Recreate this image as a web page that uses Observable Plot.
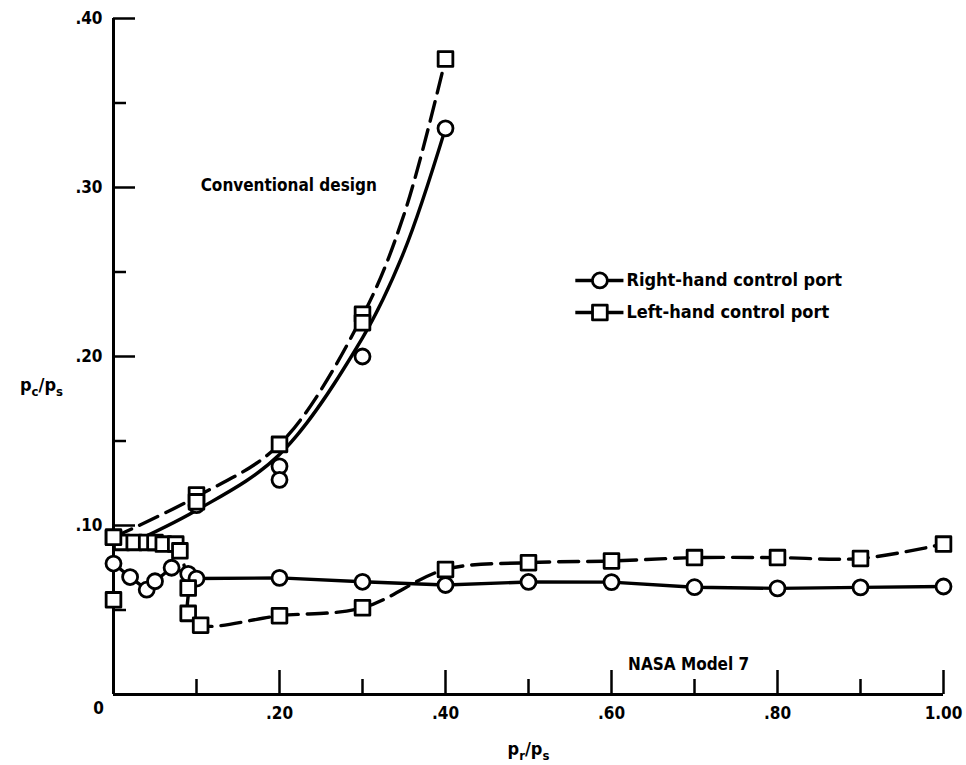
<!DOCTYPE html>
<html><head><meta charset="utf-8">
<script src="https://cdn.jsdelivr.net/npm/d3@7"></script>
<script src="https://cdn.jsdelivr.net/npm/@observablehq/plot@0.6"></script>
<style>
body{margin:0;background:#fff;}
#chart svg{font-family:"Liberation Sans Narrow","DejaVu Sans Condensed","Arial Narrow",sans-serif;}
</style></head><body><div id="chart"></div>
<script>
// ---- Conventional design (measured points) ----
const convRightX = [0.10, 0.20, 0.20, 0.30, 0.40];
const convRightY = [0.112, 0.135, 0.127, 0.200, 0.335];
const convLeftX  = [0.00, 0.10, 0.10, 0.20, 0.30, 0.30, 0.40];
const convLeftY  = [0.093, 0.118, 0.114, 0.148, 0.225, 0.220, 0.376];
// faired curves drawn through the conventional-design data
const convRightCurveX = [0.01, 0.10, 0.20, 0.30, 0.35, 0.40];
const convRightCurveY = [0.087, 0.109, 0.142, 0.211, 0.262, 0.335];
const convLeftCurveX  = [0.00, 0.10, 0.20, 0.30, 0.35, 0.40];
const convLeftCurveY  = [0.093, 0.117, 0.148, 0.224, 0.284, 0.376];

// ---- NASA Model 7 ----
const nasaRightX = [0.00, 0.02, 0.04, 0.05, 0.07, 0.09, 0.10, 0.20, 0.30, 0.40, 0.50, 0.60, 0.70, 0.80, 0.90, 1.00];
const nasaRightY = [0.0775, 0.0695, 0.062, 0.067, 0.075, 0.0714, 0.0686, 0.069, 0.0667, 0.0648, 0.0666, 0.0665, 0.0635, 0.0628, 0.0634, 0.0639];
const nasaLeftX  = [0.00, 0.01, 0.025, 0.04, 0.05, 0.06, 0.075, 0.08, 0.09, 0.09, 0.105, 0.20, 0.30, 0.40, 0.50, 0.60, 0.70, 0.80, 0.90, 1.00];
const nasaLeftY  = [0.093, 0.090, 0.090, 0.090, 0.090, 0.089, 0.089, 0.085, 0.063, 0.048, 0.041, 0.0466, 0.0513, 0.074, 0.078, 0.079, 0.081, 0.081, 0.0805, 0.089];
const nasaLeftExtraX = [0.00];
const nasaLeftExtraY = [0.056];

// ---- axes ----
const xTickValues = [0, 0.2, 0.4, 0.6, 0.8, 1.0];
const xTickLabels = ["0", ".20", ".40", ".60", ".80", "1.00"];
const xMinorTicks = [0.1, 0.3, 0.5, 0.7, 0.9];
const yTickValues = [0.1, 0.2, 0.3, 0.4];
const yTickLabels = [".10", ".20", ".30", ".40"];
const yMinorTicks = [0.05, 0.15, 0.25, 0.35];
const xTitle = ["p", "r", "/p", "s"];
const yTitle = ["p", "c", "/p", "s"];

// ---- annotations ----
const notes = [
  {text: "Conventional design", x: 0.105, y: 0.301},
  {text: "NASA Model 7", x: 0.62, y: 0.018}
];
const legendRows = [
  {label: "Right-hand control port", x1: 0.557, x2: 0.615, xm: 0.586, xt: 0.618, y: 0.245},
  {label: "Left-hand control port",  x1: 0.557, x2: 0.615, xm: 0.586, xt: 0.618, y: 0.226}
];

const zip = (X, Y) => X.map((x, i) => ({x, y: Y[i]}));
const convRight = zip(convRightX, convRightY);
const convLeft = zip(convLeftX, convLeftY);
const convRightCurve = zip(convRightCurveX, convRightCurveY);
const convLeftCurve = zip(convLeftCurveX, convLeftCurveY);
const nasaRight = zip(nasaRightX, nasaRightY);
const nasaLeft = zip(nasaLeftX, nasaLeftY);
const nasaLeftExtra = zip(nasaLeftExtraX, nasaLeftExtraY);

const W = 966, H = 765;
const mL = 113, mR = 23, mT = 18, mB = 71;
const plotW = W - mL - mR, plotH = H - mT - mB;
const FONT = '"Liberation Sans Narrow","DejaVu Sans Condensed","Arial Narrow",sans-serif';
const LW = 3.4;
const dash = "20,9";
const circ = {symbol: "circle", r: 7.5, fill: "white", stroke: "black", strokeWidth: 2.8};
const sq = {symbol: "square", r: 8.3, fill: "white", stroke: "black", strokeWidth: 2.8, strokeLinejoin: "round"};

const chart = Plot.plot({
  width: W, height: H,
  marginLeft: mL, marginRight: mR, marginTop: mT, marginBottom: mB,
  x: {domain: [0, 1], label: null},
  y: {domain: [0, 0.4], label: null},
  style: {fontFamily: FONT, fontSize: "17px", fontWeight: "bold", color: "#000", background: "#fff"},
  marks: [
    // frame (left and bottom only)
    Plot.ruleX([0], {strokeWidth: 3}),
    Plot.ruleY([0], {strokeWidth: 3}),
    // inward ticks
    Plot.tickX(xTickValues.slice(1), {x: d => d, insetTop: plotH - 24, strokeWidth: 2.5}),
    Plot.tickX(xMinorTicks, {x: d => d, insetTop: plotH - 15, strokeWidth: 2.5}),
    Plot.tickY(yTickValues, {y: d => d, insetRight: plotW - 22, strokeWidth: 2.5}),
    Plot.tickY(yMinorTicks, {y: d => d, insetRight: plotW - 13, strokeWidth: 2.5}),
    // tick labels
    Plot.axisX(xTickValues.slice(1), {tickSize: 0, tickPadding: 12, label: null, tickFormat: d => xTickLabels[xTickValues.indexOf(d)], fontSize: 17}),
    Plot.axisY(yTickValues, {tickSize: 0, tickPadding: 11, label: null, tickFormat: d => yTickLabels[yTickValues.indexOf(d)], fontSize: 17}),
    Plot.text([xTickLabels[0]], {x: 0, y: 0, dx: -15, dy: 14, fontSize: 17}),
    // axis titles
    Plot.text([xTitle.join("")], {x: 0.5, y: 0, dy: 55, fontSize: 18, textAnchor: "middle"}),
    Plot.text([yTitle.join("")], {x: 0, y: 0.183, dx: -72, fontSize: 18, textAnchor: "middle"}),
    // conventional design curves
    Plot.line(convRightCurve, {x: "x", y: "y", curve: "catmull-rom", strokeWidth: LW}),
    Plot.line(convLeftCurve, {x: "x", y: "y", curve: "catmull-rom", strokeWidth: LW, strokeDasharray: dash}),
    // NASA model 7 curves
    Plot.line(nasaRight, {x: "x", y: "y", strokeWidth: LW}),
    Plot.line(nasaLeft, {x: "x", y: "y", curve: "catmull-rom", strokeWidth: LW, strokeDasharray: dash}),
    // symbols
    Plot.dot(nasaRight, {x: "x", y: "y", ...circ}),
    Plot.dot(nasaLeft, {x: "x", y: "y", ...sq}),
    Plot.dot(nasaLeftExtra, {x: "x", y: "y", ...sq}),
    Plot.dot(convRight, {x: "x", y: "y", ...circ}),
    Plot.dot(convLeft, {x: "x", y: "y", ...sq}),
    // annotations
    Plot.text(notes, {x: "x", y: "y", text: "text", textAnchor: "start", fontSize: 17}),
    // legend
    Plot.ruleY(legendRows, {y: "y", x1: "x1", x2: "x2", strokeWidth: LW}),
    Plot.dot(legendRows.slice(0, 1), {x: "xm", y: "y", ...circ}),
    Plot.dot(legendRows.slice(1), {x: "xm", y: "y", ...sq}),
    Plot.text(legendRows, {x: "xt", y: "y", text: "label", textAnchor: "start", fontSize: 18})
  ]
});

// subscripts in the axis titles
d3.select(chart).selectAll("text").each(function () {
  const t = this.textContent;
  const parts = t === xTitle.join("") ? xTitle : t === yTitle.join("") ? yTitle : null;
  if (!parts) return;
  const sel = d3.select(this);
  sel.text(null);
  parts.forEach((p, i) => {
    const ts = sel.append("tspan").text(p);
    if (i % 2 === 1) ts.attr("dy", 5).attr("font-size", 13);
    else if (i > 0) ts.attr("dy", -5);
  });
});

document.getElementById("chart").appendChild(chart);
</script>
</body></html>
